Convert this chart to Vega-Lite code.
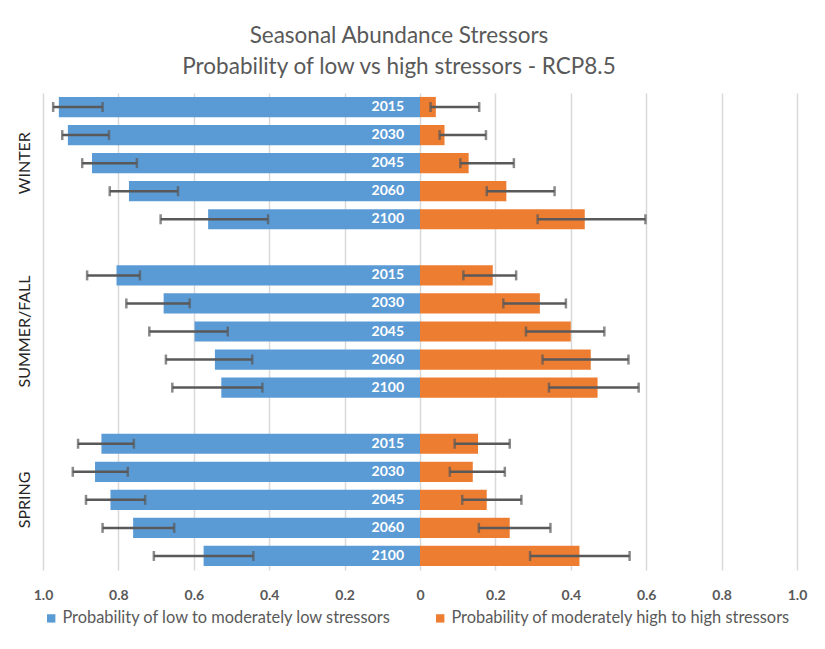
{
  "$schema": "https://vega.github.io/schema/vega-lite/v6.json",
  "width": 754,
  "height": 477,
  "autosize": {"type": "none"},
  "padding": {"left": 43, "top": 93, "right": 28, "bottom": 79},
  "background": "white",
  "title": {
    "text": ["Seasonal Abundance Stressors", "Probability of low vs high stressors - RCP8.5"],
    "font": "Lato",
    "fontSize": 22.5,
    "fontWeight": "normal",
    "color": "#595959",
    "lineHeight": 31,
    "anchor": "middle",
    "dx": -21,
    "offset": 15
  },
  "config": {
    "view": {"stroke": null},
    "font": "Lato"
  },
  "data": {
    "values": [
      {"slot": "WINTER|2015", "season": "WINTER", "year": "2015", "low": 0.958, "low_a": 0.973, "low_b": 0.842, "high": 0.042, "high_a": 0.028, "high_b": 0.157},
      {"slot": "WINTER|2030", "season": "WINTER", "year": "2030", "low": 0.934, "low_a": 0.949, "low_b": 0.825, "high": 0.065, "high_a": 0.052, "high_b": 0.175},
      {"slot": "WINTER|2045", "season": "WINTER", "year": "2045", "low": 0.870, "low_a": 0.896, "low_b": 0.751, "high": 0.129, "high_a": 0.107, "high_b": 0.249},
      {"slot": "WINTER|2060", "season": "WINTER", "year": "2060", "low": 0.772, "low_a": 0.823, "low_b": 0.642, "high": 0.229, "high_a": 0.177, "high_b": 0.357},
      {"slot": "WINTER|2100", "season": "WINTER", "year": "2100", "low": 0.562, "low_a": 0.688, "low_b": 0.403, "high": 0.437, "high_a": 0.312, "high_b": 0.598},
      {"slot": "SUMMER/FALL|2015", "season": "SUMMER/FALL", "year": "2015", "low": 0.805, "low_a": 0.883, "low_b": 0.743, "high": 0.193, "high_a": 0.115, "high_b": 0.255},
      {"slot": "SUMMER/FALL|2030", "season": "SUMMER/FALL", "year": "2030", "low": 0.680, "low_a": 0.779, "low_b": 0.611, "high": 0.318, "high_a": 0.221, "high_b": 0.387},
      {"slot": "SUMMER/FALL|2045", "season": "SUMMER/FALL", "year": "2045", "low": 0.598, "low_a": 0.718, "low_b": 0.510, "high": 0.400, "high_a": 0.281, "high_b": 0.489},
      {"slot": "SUMMER/FALL|2060", "season": "SUMMER/FALL", "year": "2060", "low": 0.544, "low_a": 0.674, "low_b": 0.445, "high": 0.453, "high_a": 0.325, "high_b": 0.553},
      {"slot": "SUMMER/FALL|2100", "season": "SUMMER/FALL", "year": "2100", "low": 0.527, "low_a": 0.657, "low_b": 0.418, "high": 0.471, "high_a": 0.342, "high_b": 0.580},
      {"slot": "SPRING|2015", "season": "SPRING", "year": "2015", "low": 0.845, "low_a": 0.907, "low_b": 0.759, "high": 0.154, "high_a": 0.092, "high_b": 0.238},
      {"slot": "SPRING|2030", "season": "SPRING", "year": "2030", "low": 0.862, "low_a": 0.921, "low_b": 0.775, "high": 0.140, "high_a": 0.079, "high_b": 0.225},
      {"slot": "SPRING|2045", "season": "SPRING", "year": "2045", "low": 0.821, "low_a": 0.886, "low_b": 0.729, "high": 0.177, "high_a": 0.112, "high_b": 0.269},
      {"slot": "SPRING|2060", "season": "SPRING", "year": "2060", "low": 0.761, "low_a": 0.842, "low_b": 0.652, "high": 0.238, "high_a": 0.156, "high_b": 0.346},
      {"slot": "SPRING|2100", "season": "SPRING", "year": "2100", "low": 0.574, "low_a": 0.706, "low_b": 0.442, "high": 0.423, "high_a": 0.292, "high_b": 0.556}
    ]
  },
  "transform": [
    {"calculate": "-datum.low", "as": "low_x"},
    {"calculate": "-datum.low_a", "as": "low_ax"},
    {"calculate": "-datum.low_b", "as": "low_bx"}
  ],
  "encoding": {
    "y": {
      "field": "slot",
      "type": "nominal",
      "scale": {
        "domain": [
          "WINTER|2015", "WINTER|2030", "WINTER|2045", "WINTER|2060", "WINTER|2100", "gap1",
          "SUMMER/FALL|2015", "SUMMER/FALL|2030", "SUMMER/FALL|2045", "SUMMER/FALL|2060", "SUMMER/FALL|2100", "gap2",
          "SPRING|2015", "SPRING|2030", "SPRING|2045", "SPRING|2060", "SPRING|2100"
        ],
        "paddingInner": 0.28,
        "paddingOuter": 0.14
      },
      "axis": {
        "title": null,
        "ticks": false,
        "domain": false,
        "grid": false,
        "labelOverlap": false,
        "labelExpr": "indexof(datum.label, '|2045') > 0 ? split(datum.label, '|')[0] : ''",
        "labelAngle": -90,
        "labelAlign": "center",
        "labelBaseline": "bottom",
        "labelPadding": 11,
        "labelFontSize": 16,
        "labelColor": "#262626",
        "labelFont": "Lato",
        "labelBound": false,
        "labelLimit": 0
      }
    }
  },
  "layer": [
    {
      "mark": {"type": "bar"},
      "encoding": {
        "x": {
          "field": "low_x",
          "type": "quantitative",
          "scale": {"domain": [-1, 1], "nice": false, "zero": false},
          "axis": {
            "title": null,
            "values": [-1, -0.8, -0.6, -0.4, -0.2, 0, 0.2, 0.4, 0.6, 0.8, 1],
            "labelExpr": "datum.value == 0 ? '0' : format(abs(datum.value), '.1f')",
            "ticks": false,
            "domain": false,
            "grid": true,
            "gridColor": "#d9d9d9",
            "gridWidth": 1.5,
            "labelFlush": false,
            "labelOverlap": false,
            "labelFont": "Lato",
            "labelFontSize": 14,
            "labelFontWeight": "bold",
            "labelColor": "#595959",
            "labelPadding": 18
          }
        },
        "x2": {"datum": 0},
        "color": {
          "datum": "Probability of low to moderately low stressors",
          "type": "nominal",
          "scale": {
            "domain": ["Probability of low to moderately low stressors", "Probability of moderately high to high stressors"],
            "range": ["#5B9BD5", "#ED7D31"]
          },
          "legend": {
            "title": null,
            "orient": "bottom",
            "direction": "horizontal",
            "symbolType": "square",
            "symbolSize": 70,
            "symbolStrokeWidth": 0,
            "labelFont": "Lato",
            "labelFontSize": 16.4,
            "labelColor": "#595959",
            "labelLimit": 0,
            "columnPadding": 40,
            "offset": 8,
            "labelOffset": 3
          }
        }
      }
    },
    {
      "mark": {"type": "bar"},
      "encoding": {
        "x": {"field": "high", "type": "quantitative"},
        "x2": {"datum": 0},
        "color": {"datum": "Probability of moderately high to high stressors", "type": "nominal"}
      }
    },
    {
      "mark": {"type": "errorbar", "ticks": {"size": 10, "thickness": 2.5, "color": "#595959"}, "color": "#595959", "thickness": 2.5},
      "encoding": {
        "x": {"field": "low_ax", "type": "quantitative"},
        "x2": {"field": "low_bx"}
      }
    },
    {
      "mark": {"type": "errorbar", "ticks": {"size": 10, "thickness": 2.5, "color": "#595959"}, "color": "#595959", "thickness": 2.5},
      "encoding": {
        "x": {"field": "high_a", "type": "quantitative"},
        "x2": {"field": "high_b"}
      }
    },
    {
      "mark": {"type": "text", "align": "right", "baseline": "middle", "dx": -16, "font": "Lato", "fontSize": 14, "fontWeight": "bold", "color": "white"},
      "encoding": {
        "x": {"datum": 0},
        "text": {"field": "year"}
      }
    }
  ]
}
